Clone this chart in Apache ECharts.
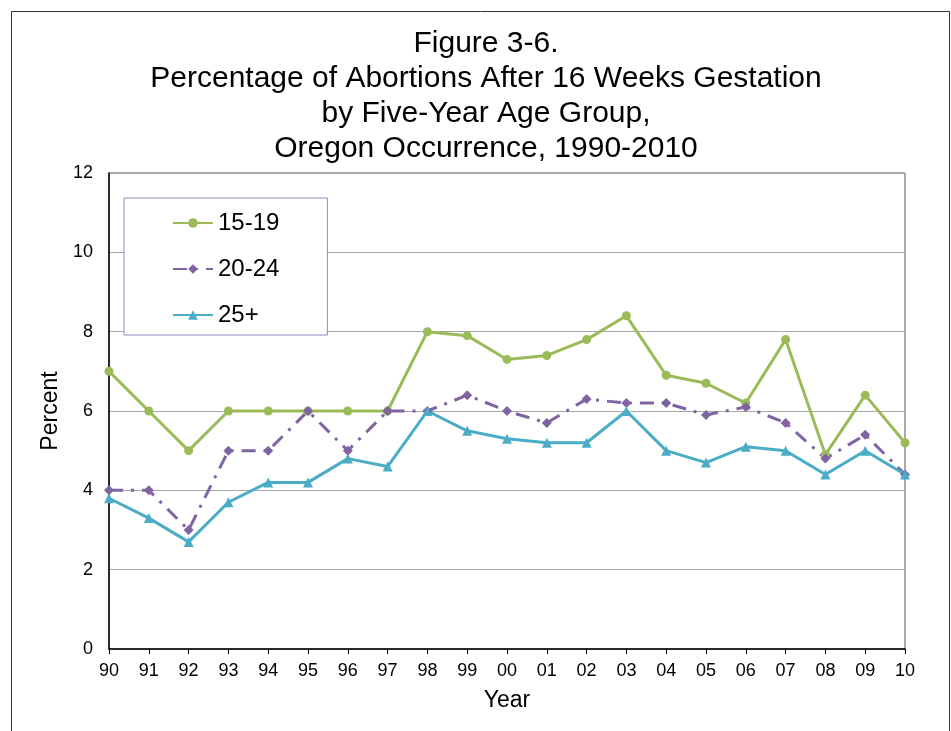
<!DOCTYPE html>
<html>
<head>
<meta charset="utf-8">
<script src="https://cdn.jsdelivr.net/npm/echarts@6/dist/echarts.min.js"></script>
<style>
  html, body { margin: 0; padding: 0; background: #fff; }
  #chart { width: 951px; height: 731px; }
</style>
</head>
<body>
<div id="chart"></div>
<script>
const years = ['90', '91', '92', '93', '94', '95', '96', '97', '98', '99', '00',
  '01', '02', '03', '04', '05', '06', '07', '08', '09', '10'];
const age1519 = [7, 6, 5, 6, 6, 6, 6, 6, 8, 7.9, 7.3, 7.4, 7.8, 8.4, 6.9, 6.7, 6.2, 7.8, 4.9, 6.4, 5.2];
const age2024 = [4, 4, 3, 5, 5, 6, 5, 6, 6, 6.4, 6, 5.7, 6.3, 6.2, 6.2, 5.9, 6.1, 5.7, 4.8, 5.4, 4.4];
const age25up = [3.8, 3.3, 2.7, 3.7, 4.2, 4.2, 4.8, 4.6, 6, 5.5, 5.3, 5.2, 5.2, 6, 5, 4.7, 5.1, 5, 4.4, 5, 4.4];

const font = 'Liberation Sans, Arial, sans-serif';
const chart = echarts.init(document.getElementById('chart'));

chart.setOption({
  animation: false,
  textStyle: { fontFamily: font, color: '#000' },
  title: {
    text: 'Figure 3-6.\nPercentage of Abortions After 16 Weeks Gestation\nby Five-Year Age Group,\nOregon Occurrence, 1990-2010',
    left: 481,
    top: 21,
    textAlign: 'center',
    textStyle: { fontFamily: font, fontSize: 30, fontWeight: 'normal', color: '#000', lineHeight: 35 }
  },
  graphic: [{
    type: 'rect',
    shape: { x: 11.5, y: 11.5, width: 938, height: 760 },
    style: { fill: 'none', stroke: '#333', lineWidth: 1 },
    silent: true
  }],
  legend: {
    orient: 'vertical',
    left: 124,
    top: 198,
    padding: [13, 48, 8, 48],
    itemGap: 22,
    itemWidth: 40,
    itemHeight: 12,
    borderColor: '#9B86C0',
    borderWidth: 1,
    backgroundColor: '#fff',
    textStyle: { fontFamily: font, fontSize: 24, color: '#000' },
    data: ['15-19', '20-24', '25+']
  },
  grid: { left: 109, top: 173, right: 46, bottom: 82, show: true, borderColor: '#555', borderWidth: 1 },
  xAxis: {
    type: 'category',
    data: years,
    boundaryGap: false,
    name: 'Year',
    nameLocation: 'middle',
    nameGap: 40,
    nameTextStyle: { fontFamily: font, fontSize: 23, color: '#000' },
    axisLine: { lineStyle: { color: '#000', width: 1.5 } },
    axisTick: { show: true, length: 5, lineStyle: { color: '#000' } },
    axisLabel: { fontFamily: font, fontSize: 18, color: '#000', margin: 13, interval: 0 },
    splitLine: { show: false }
  },
  yAxis: {
    type: 'value',
    min: 0,
    max: 12,
    interval: 2,
    name: 'Percent',
    nameLocation: 'middle',
    nameGap: 40,
    nameTextStyle: { fontFamily: font, fontSize: 23, color: '#000' },
    axisLine: { show: true, lineStyle: { color: '#000', width: 1.5 } },
    axisTick: { show: false },
    axisLabel: { fontFamily: font, fontSize: 18, color: '#000', margin: 16 },
    splitLine: { lineStyle: { color: '#A6A6A6', width: 1.2 } }
  },
  series: [
    {
      name: '15-19',
      type: 'line',
      data: age1519,
      symbol: 'circle',
      symbolSize: 9,
      itemStyle: { color: '#9BBB59' },
      lineStyle: { color: '#9BBB59', width: 3 }
    },
    {
      name: '20-24',
      type: 'line',
      data: age2024,
      symbol: 'diamond',
      symbolSize: 10,
      itemStyle: { color: '#8064A2' },
      lineStyle: { color: '#8064A2', width: 3, type: [14, 8, 3, 8] }
    },
    {
      name: '25+',
      type: 'line',
      data: age25up,
      symbol: 'triangle',
      symbolSize: 10,
      itemStyle: { color: '#4BACC6' },
      lineStyle: { color: '#4BACC6', width: 3 }
    }
  ]
});
</script>
</body>
</html>
